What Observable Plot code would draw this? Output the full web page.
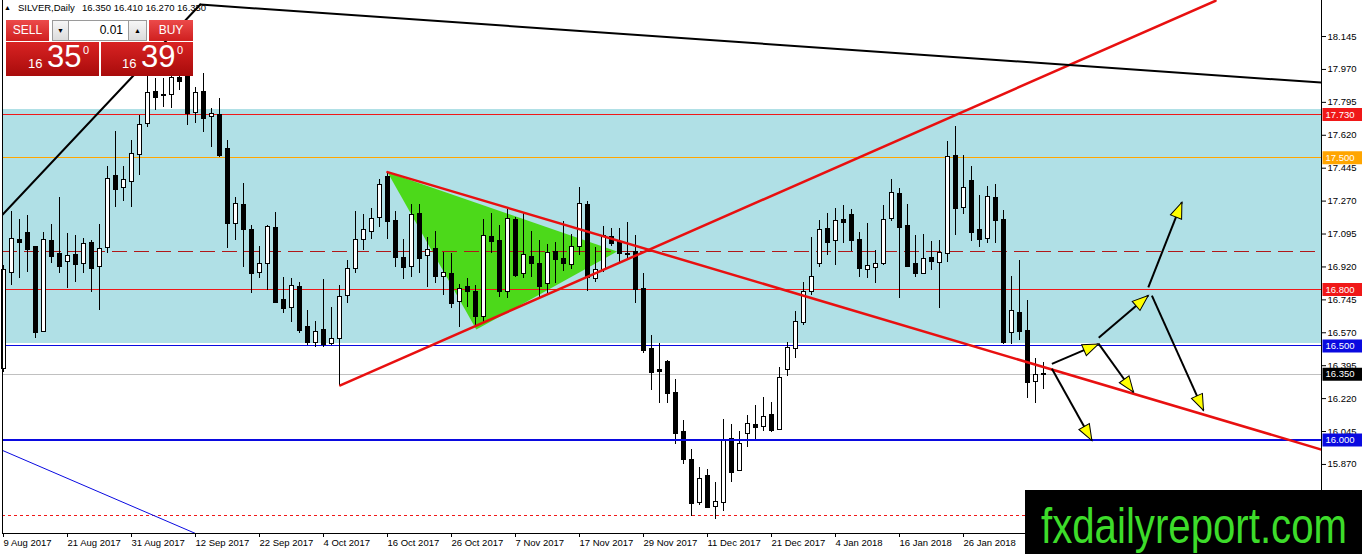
<!DOCTYPE html>
<html>
<head>
<meta charset="utf-8">
<script src="https://cdn.jsdelivr.net/npm/d3@7"></script>
<script src="https://cdn.jsdelivr.net/npm/@observablehq/plot@0.6"></script>
<style>
  html, body { margin: 0; padding: 0; background: #fff; }
  #wrap { position: relative; width: 1362px; height: 554px; overflow: hidden; font-family: "Liberation Sans", Arial, sans-serif; }
  #chart svg { display: block; }
  .abs { position: absolute; box-sizing: border-box; }
  .hdr { font-size: 9.5px; color: #000; white-space: pre; line-height: 11px; }
  .redsmall { background: linear-gradient(#ec4a4a, #cf1f1f); color: #fff; font-size: 12px; text-align: center; line-height: 21px; }
  .redbig { background: linear-gradient(#d92323, #a80b0b); color: #fff; }
  .btn { background: linear-gradient(#f6f6f6, #dcdcdc); border: 1px solid #9a9a9a; font-size: 7px; text-align: center; line-height: 19px; color: #000; }
  .inp { background: #fff; border-top: 1px solid #9a9a9a; border-bottom: 1px solid #9a9a9a; font-size: 12px; text-align: right; padding-right: 5px; line-height: 19px; color: #000; }
</style>
</head>
<body>
<div id="wrap">
  <div id="chart"></div>
</div>
<script>
// ---------------- data ----------------
const symbolName = "SILVER,Daily";
const lastOHLC = ["16.350", "16.410", "16.270", "16.350"];
const lotSize = "0.01";
const bidBig = "16", bidMain = "35", bidSup = "0";
const askBig = "16", askMain = "39", askSup = "0";
const watermark = "fxdailyreport.com";

const dateLabels = ["9 Aug 2017","21 Aug 2017","31 Aug 2017","12 Sep 2017","22 Sep 2017","4 Oct 2017","16 Oct 2017","26 Oct 2017","7 Nov 2017","17 Nov 2017","29 Nov 2017","11 Dec 2017","21 Dec 2017","4 Jan 2018","16 Jan 2018","26 Jan 2018"];
const dateTickBars = [0,8,16,24,32,40,48,56,64,72,80,88,96,104,112,120];
const priceTicks = [18.145,17.970,17.795,17.620,17.445,17.270,17.095,16.920,16.745,16.570,16.395,16.220,16.045,15.870,15.695];

const opens = [16.38,16.889,17.06,17.098,17.023,16.579,17.054,16.986,16.947,16.979,16.937,17.045,16.921,17.025,17.401,17.341,17.373,17.519,17.681,17.847,17.832,17.835,17.92,17.95,17.743,17.845,17.718,17.725,17.544,17.149,17.247,17.114,16.892,16.940,17.124,16.742,16.706,16.812,16.596,16.517,16.582,16.511,16.538,16.768,16.910,17.064,17.108,17.181,17.397,17.162,16.967,16.924,17.199,16.981,17.011,16.871,16.880,16.736,16.809,16.782,16.655,17.077,17.055,16.789,17.167,16.884,16.972,16.933,16.830,16.997,16.960,16.931,17.029,17.247,16.857,16.905,17.075,17.050,16.988,16.998,16.799,16.479,16.368,16.410,16.246,16.038,15.891,15.669,15.806,15.648,15.669,16.003,15.838,16.033,16.077,16.072,16.130,16.056,16.373,16.488,16.626,16.791,16.940,17.117,17.059,17.165,17.193,17.061,16.905,16.915,16.937,17.176,17.304,17.135,16.933,16.884,16.963,16.945,16.993,17.507,17.234,17.374,17.114,17.070,17.282,17.167,16.570,16.674,16.578,16.313,16.35];
const highs = [16.93,17.215,17.172,17.193,17.03,17.101,17.146,17.291,17.098,17.087,17.073,17.061,17.146,17.454,17.642,17.454,17.593,17.724,17.93,17.92,17.92,17.95,17.96,17.98,17.876,17.947,17.761,17.814,17.592,17.291,17.365,17.140,17.029,17.140,17.209,16.866,16.860,16.839,16.688,16.628,16.852,16.706,16.821,16.954,17.216,17.199,17.229,17.383,17.424,17.216,17.064,17.252,17.252,17.075,17.110,16.998,16.990,16.827,16.857,16.821,17.174,17.206,17.140,17.224,17.182,17.211,17.110,17.061,17.038,17.052,17.162,17.092,17.344,17.268,17.025,17.135,17.123,17.123,17.158,17.087,16.884,16.556,16.511,16.42,16.320,16.104,15.948,15.852,15.842,15.776,16.107,16.082,16.047,16.131,16.183,16.227,16.201,16.387,16.520,16.685,16.839,17.078,17.167,17.203,17.233,17.247,17.227,17.105,17.149,17.007,17.247,17.385,17.335,17.252,17.087,17.092,17.055,17.061,17.588,17.667,17.512,17.454,17.300,17.346,17.358,17.220,16.869,16.954,16.742,16.432,16.41];
const lows = [16.36,16.821,16.857,16.892,16.538,16.579,16.938,16.887,16.807,16.839,16.884,16.786,16.687,16.990,17.238,17.266,17.238,17.406,17.66,17.752,17.769,17.761,17.858,17.672,17.681,17.633,17.557,17.504,17.016,17.061,16.919,16.780,16.860,16.795,16.733,16.674,16.626,16.568,16.502,16.493,16.493,16.502,16.29,16.724,16.884,17.007,17.064,17.128,17.064,16.919,16.851,16.862,16.884,16.812,16.834,16.768,16.698,16.60,16.706,16.602,16.618,16.994,16.759,16.754,16.862,16.857,16.862,16.759,16.780,16.830,16.896,16.905,16.981,16.791,16.837,16.890,17.029,16.945,16.954,16.727,16.461,16.263,16.192,16.196,15.976,15.868,15.593,15.652,15.640,15.576,15.621,15.776,15.836,15.960,15.997,16.047,16.042,16.050,16.338,16.432,16.609,16.768,16.915,16.981,16.928,17.046,17.004,16.866,16.860,16.830,16.928,17.163,16.751,16.922,16.862,16.880,16.901,16.698,16.945,17.087,17.199,17.057,17.025,17.046,17.046,16.508,16.508,16.529,16.219,16.196,16.27];
const closes = [16.90,17.064,17.05,17.014,16.573,17.059,16.977,16.921,16.974,16.931,17.039,16.913,17.011,17.383,17.333,17.378,17.516,17.670,17.840,17.822,17.830,17.92,17.907,17.734,17.840,17.711,17.730,17.513,17.153,17.252,17.117,16.887,16.931,17.128,16.733,16.701,16.816,16.582,16.520,16.573,16.506,16.533,16.756,16.905,17.061,17.114,17.174,17.353,17.162,16.969,16.919,17.192,16.963,17.007,16.869,16.884,16.727,16.799,16.789,16.658,17.080,17.057,16.791,17.171,16.875,16.979,16.937,16.818,16.990,16.958,16.937,17.022,17.252,16.866,16.899,17.082,17.047,16.993,16.984,16.799,16.476,16.360,16.364,16.249,16.033,15.895,15.664,15.790,15.643,15.666,15.997,15.829,15.976,16.082,16.065,16.121,16.051,16.325,16.485,16.623,16.786,16.866,17.114,17.052,17.162,17.155,17.061,16.910,16.922,16.931,17.167,17.309,17.128,16.924,16.887,16.958,16.951,16.990,17.500,17.229,17.335,17.105,17.064,17.287,17.167,16.520,16.685,16.578,16.307,16.343,16.35];

// support / resistance zone and horizontal levels
const zoneLow = 16.515, zoneHigh = 17.755;
const levelPrices = [17.73, 17.5, 16.8, 16.5, 16.35, 16.0];
const levelLabels = ["17.730", "17.500", "16.800", "16.500", "16.350", "16.000"];
const midLevel = 17.0;
const bottomLevel = 15.60;

// drawn objects (bar index, price)
const triangleBars = [48, 59.1, 76.7, 48];
const trianglePrices = [17.424, 16.587, 17.002, 17.424];
const redRiseBars = [42.1, 151.5], redRisePrices = [16.29, 18.335];
const redFallBars = [48, 164.75], redFallPrices = [17.424, 15.949];
const blackRiseBars = [-0.1, 24.6], blackRisePrices = [17.199, 18.315];
const blackFallBars = [24.6, 164.75], blackFallPrices = [18.315, 17.90];
const blueDiagBars = [-0.1, 24], blueDiagPrices = [15.944, 15.503];
const arrowFromBar   = [131.05, 136.9, 136.9, 143.1, 143.55, 131.05];
const arrowFromPrice = [16.405, 16.511, 16.543, 16.812, 16.768, 16.379];
const arrowToBar     = [136.9, 141.25, 143.1, 147.3, 150.0, 136.05];
const arrowToPrice   = [16.511, 16.254, 16.768, 17.264, 16.157, 15.997];

// ---------------- layout ----------------
const W = 1362, H = 554, ML = 2, MR = 41, MT = 0, MB = 21;
const xDom = [-0.125, 164.75];
const yDom = [15.5029, 18.3365];
const kx = (W - ML - MR) / (xDom[1] - xDom[0]);
const ky = (H - MT - MB) / (yDom[1] - yDom[0]);

const bars = opens.map((o, i) => ({i, o, h: highs[i], l: lows[i], c: closes[i]}));
const pts = (bs, ps) => bs.map((b, k) => ({b, p: ps[k]}));
const arrows = arrowFromBar.map((b, k) => {
  const dxp = (arrowToBar[k] - b) * kx;
  const dyp = -(arrowToPrice[k] - arrowFromPrice[k]) * ky;
  return {b1: b, p1: arrowFromPrice[k], b2: arrowToBar[k], p2: arrowToPrice[k], rot: Math.atan2(dxp, -dyp) * 180 / Math.PI};
});
const levels = levelPrices.map((p, k) => ({p, label: levelLabels[k], k}));
const boxColors = ["#f01818", "#ffa500", "#f01818", "#0a0ae0", "#000000", "#0a0ae0"];

const arrowHead = { draw(ctx) { ctx.moveTo(0, 0); ctx.lineTo(-6, 16); ctx.lineTo(6, 16); ctx.closePath(); } };
const labelBox = { draw(ctx) { ctx.rect(1, -6.5, 40, 13); } };
const crisp = {shapeRendering: "crispEdges"};

const chart = Plot.plot({
  width: W, height: H,
  marginLeft: ML, marginRight: MR, marginTop: MT, marginBottom: MB,
  x: {type: "linear", domain: xDom},
  y: {type: "linear", domain: yDom},
  color: {type: "identity"},
  style: {fontFamily: "'Liberation Sans', Arial, sans-serif", background: "#fff", overflow: "visible"},
  marks: [
    Plot.rect([0], {x1: xDom[0], x2: xDom[1], y1: zoneLow, y2: zoneHigh, fill: "#b0e0e6", ...crisp}),
    Plot.line(pts(triangleBars, trianglePrices), {x: "b", y: "p", fill: "#4cd91a", stroke: "none"}),
    Plot.ruleY([levelPrices[0]], {stroke: "#f01818", strokeWidth: 1, ...crisp}),
    Plot.ruleY([levelPrices[1]], {stroke: "#ffa500", strokeWidth: 1, ...crisp}),
    Plot.ruleY([midLevel], {stroke: "#b01818", strokeWidth: 1, strokeDasharray: "15,7", ...crisp}),
    Plot.ruleY([levelPrices[2]], {stroke: "#f01818", strokeWidth: 1, ...crisp}),
    Plot.ruleY([levelPrices[3]], {stroke: "#0a0ae0", strokeWidth: 1, ...crisp}),
    Plot.ruleY([levelPrices[4]], {stroke: "#c0c0c0", strokeWidth: 1, ...crisp}),
    Plot.ruleY([bottomLevel], {stroke: "#f01818", strokeWidth: 1, strokeDasharray: "3,3", ...crisp}),
    Plot.line(pts(blueDiagBars, blueDiagPrices), {x: "b", y: "p", stroke: "#0a0ae0", strokeWidth: 1, clip: true}),
    // candles
    Plot.ruleX(bars, {x: "i", y1: "l", y2: "h", stroke: "#000", strokeWidth: 1, ...crisp}),
    Plot.rect(bars, {x1: d => d.i - 0.25, x2: d => d.i + 0.25, y1: "o", y2: "c",
      fill: d => d.c >= d.o ? "#fff" : "#000", stroke: "#000", strokeWidth: 1, insetTop: -0.5, insetBottom: -0.5, ...crisp}),
    Plot.ruleY([levelPrices[5]], {stroke: "#0a0ae0", strokeWidth: 2, ...crisp}),
    // trend lines
    Plot.line(pts(redRiseBars, redRisePrices), {x: "b", y: "p", stroke: "#e81010", strokeWidth: 2.5, clip: true}),
    Plot.line(pts(redFallBars, redFallPrices), {x: "b", y: "p", stroke: "#e81010", strokeWidth: 2.5, clip: true}),
    Plot.line(pts(blackRiseBars, blackRisePrices), {x: "b", y: "p", stroke: "#000", strokeWidth: 2, clip: true}),
    Plot.line(pts(blackFallBars, blackFallPrices), {x: "b", y: "p", stroke: "#000", strokeWidth: 2, clip: true}),
    // arrows
    Plot.link(arrows, {x1: "b1", y1: "p1", x2: "b2", y2: "p2", stroke: "#000", strokeWidth: 2}),
    Plot.dot(arrows, {x: "b2", y: "p2", rotate: "rot", symbol: arrowHead, r: 5, fill: "#ffff00", stroke: "#000", strokeWidth: 1}),
    // frame lines
    Plot.ruleX([xDom[0]], {stroke: "#000", ...crisp}),
    Plot.ruleX([xDom[1]], {stroke: "#000", ...crisp}),
    Plot.ruleY([yDom[0]], {stroke: "#000", ...crisp}),
    // axes
    Plot.axisY(priceTicks, {anchor: "right", tickSize: 4, tickPadding: 2, tickFormat: d => d.toFixed(3), fontSize: 9.5, stroke: "#000"}),
    Plot.axisX(dateTickBars, {anchor: "bottom", tickSize: 4, tickPadding: 2, textAnchor: "start", dx: 0,
      tickFormat: d => dateLabels[dateTickBars.indexOf(d)], fontSize: 9.5}),
    // price labels
    Plot.dot(levels, {y: "p", frameAnchor: "right", symbol: labelBox, r: 5, fill: d => boxColors[d.k], stroke: "none"}),
    Plot.text(levels, {y: "p", frameAnchor: "right", text: "label", textAnchor: "start", dx: 4, fill: "#fff", fontSize: 9.5})
  ]
});
document.getElementById("chart").appendChild(chart);

// ---------------- overlays (terminal widget, header, watermark) ----------------
const wrap = document.getElementById("wrap");
function add(html) { wrap.insertAdjacentHTML("beforeend", html); }
add(`<div class="abs hdr" style="left:4px;top:2px;font-size:7px;">&#9650;</div>`);
add(`<div class="abs hdr" style="left:18px;top:2px;">${symbolName}</div>`);
add(`<div class="abs hdr" style="left:82px;top:2px;">${lastOHLC.join(" ")}</div>`);
add(`<div class="abs redsmall" style="left:6px;top:20px;width:43px;height:21px;">SELL</div>`);
add(`<div class="abs btn" style="left:52px;top:20px;width:17px;height:21px;">&#9660;</div>`);
add(`<div class="abs inp" style="left:69px;top:20px;width:59px;height:21px;">${lotSize}</div>`);
add(`<div class="abs btn" style="left:128px;top:20px;width:19px;height:21px;">&#9650;</div>`);
add(`<div class="abs redsmall" style="left:149px;top:20px;width:44px;height:21px;">BUY</div>`);
add(`<div class="abs redbig" style="left:6px;top:42px;width:93px;height:34px;"></div>`);
add(`<div class="abs redbig" style="left:101px;top:42px;width:92px;height:34px;"></div>`);
function price(left, small, main, sup) {
  add(`<div class="abs" style="left:${left}px;top:57px;color:#fff;font-size:13px;line-height:14px;">${small}</div>`);
  add(`<div class="abs" style="left:${left + 19}px;top:40px;color:#fff;font-size:31px;line-height:34px;">${main}</div>`);
  add(`<div class="abs" style="left:${left + 55}px;top:44px;color:#fff;font-size:11px;line-height:12px;">${sup}</div>`);
}
price(28, bidBig, bidMain, bidSup);
price(122, askBig, askMain, askSup);
add(`<div class="abs" style="left:1025px;top:490px;width:337px;height:64px;background:#000;">
  <svg width="337" height="64" style="display:block"><text x="16" y="53" fill="#3ddc2a" font-family="'Liberation Sans', Arial, sans-serif" font-size="50" textLength="306" lengthAdjust="spacingAndGlyphs">${watermark}</text></svg></div>`);
</script>
</body>
</html>
